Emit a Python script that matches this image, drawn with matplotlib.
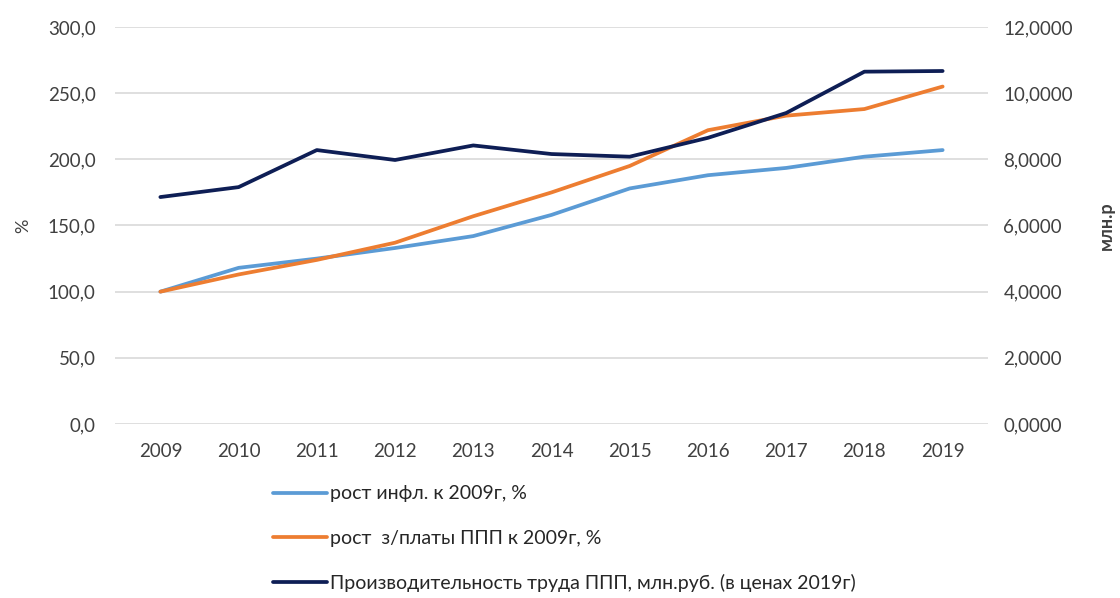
import matplotlib.pyplot as plt
from matplotlib.ticker import FuncFormatter

plt.rcParams['font.family'] = ['Lato', 'DejaVu Sans']

years = ['2009', '2010', '2011', '2012', '2013', '2014', '2015', '2016', '2017', '2018', '2019']
infl = [100, 118, 125, 133, 142, 158, 178, 188, 193.5, 202, 207]
wage = [100, 113, 124, 137, 157, 175, 195, 222, 233, 238, 255]
prod = [6.86, 7.16, 8.28, 7.98, 8.42, 8.16, 8.08, 8.65, 9.40, 10.65, 10.67]

lbl_infl = 'рост инфл. к 2009г, %'
lbl_wage = 'рост  з/платы ППП к 2009г, %'
lbl_prod = 'Производительность труда ППП, млн.руб. (в ценах 2019г)'

fig = plt.figure(figsize=(11.2, 5.98), dpi=100)
ax = fig.add_axes([115 / 1120, 1 - 424 / 598, (988 - 115) / 1120, (424 - 27) / 598])
ax2 = ax.twinx()

x = range(len(years))
l1, = ax.plot(x, infl, color='#5B9BD5', lw=2.7, label=lbl_infl, solid_capstyle='round')
l2, = ax.plot(x, wage, color='#ED7D31', lw=2.7, label=lbl_wage, solid_capstyle='round')
l3, = ax2.plot(x, prod, color='#0E1E55', lw=2.7, label=lbl_prod, solid_capstyle='round')

ax.set_xlim(-0.58, len(years) - 0.42)
ax.set_ylim(0, 300)
ax2.set_ylim(0, 12)
ax.set_yticks(range(0, 301, 50))
ax2.set_yticks(range(0, 13, 2))
ax.yaxis.set_major_formatter(FuncFormatter(lambda v, p: f'{v:.1f}'.replace('.', ',')))
ax2.yaxis.set_major_formatter(FuncFormatter(lambda v, p: f'{v:.4f}'.replace('.', ',')))
ax.set_xticks(list(x))
ax.set_xticklabels(years)

ax.grid(axis='y', color='#D9D9D9', lw=1.2)
ax.set_axisbelow(True)
for a in (ax, ax2):
    for s in a.spines.values():
        s.set_visible(False)
    a.tick_params(length=0, labelsize=13.5, labelcolor='#404040')
ax.tick_params(axis='y', pad=14)
ax.tick_params(axis='x', pad=14)
ax2.tick_params(axis='y', pad=11)

ax.set_ylabel('%', fontsize=13, color='#404040', labelpad=12)
ax2.set_ylabel('млн.р', fontsize=13, color='#404040', fontweight='bold', rotation=90, labelpad=18)

fig.legend(handles=[l1, l2, l3], loc='upper left', bbox_to_anchor=(255 / 1120, 1 - 468 / 598),
           frameon=False, fontsize=14, handlelength=2.8, handletextpad=0.15,
           labelspacing=1.4, labelcolor='#262626')

fig.savefig('out.png', dpi=100)
